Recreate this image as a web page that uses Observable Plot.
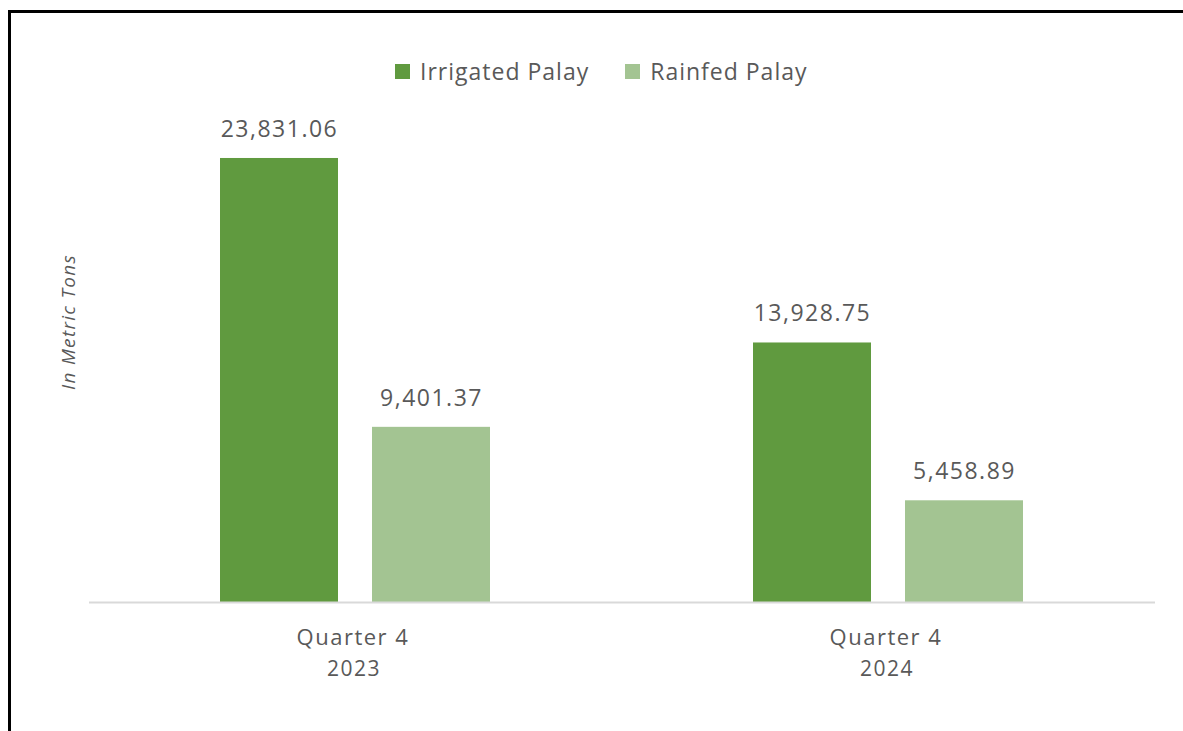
<!DOCTYPE html>
<html><head><meta charset="utf-8">
<script src="https://cdn.jsdelivr.net/npm/d3@7"></script>
<script src="https://cdn.jsdelivr.net/npm/@observablehq/plot@0.6"></script>
<style>
html,body{margin:0;padding:0;background:#fff;overflow:hidden;width:1183px;height:731px}
#wrap{position:relative;width:1183px;height:731px;font-family:'Open Sans',sans-serif;color:#595959}
#chart{position:absolute;left:0;top:0}
#chart svg text{letter-spacing:1.5px}
#frame{position:absolute;left:8px;top:10px;width:1400px;height:1000px;border:3px solid #000;pointer-events:none}
#legend{position:absolute;left:395px;top:55px;display:flex;align-items:center;font-size:23px;letter-spacing:1px;white-space:nowrap}
#legend .item{display:flex;align-items:center;margin-right:36px}
#legend .sw{width:15px;height:15px;margin-right:10px}
#ytitle{position:absolute;left:68px;top:322px;transform:translate(-50%,-50%) rotate(-90deg);font-style:italic;font-size:19px;letter-spacing:1.3px;white-space:nowrap}
</style></head>
<body>
<div id="wrap">
  <div id="frame"></div>
  <div id="legend"></div>
  <div id="ytitle">In Metric Tons</div>
  <div id="chart"></div>
</div>
<script>
const quarters = ["2023", "2024"];
const quarterLabel = "Quarter 4";
const series = ["Irrigated Palay", "Rainfed Palay"];
const irrigated = [23831.06, 13928.75];
const rainfed = [9401.37, 5458.89];
const colors = ["#609a3f", "#a3c492"];

const data = quarters.flatMap((q, i) => [
  {q, s: series[0], v: irrigated[i]},
  {q, s: series[1], v: rainfed[i]}
]);

const legend = document.getElementById("legend");
series.forEach((s, i) => {
  const it = document.createElement("div");
  it.className = "item";
  it.innerHTML = `<span class="sw" style="background:${colors[i]}"></span><span>${s}</span>`;
  legend.appendChild(it);
});

const fmt = d3.format(",.2f");
const chart = Plot.plot({
  width: 1183,
  height: 731,
  marginTop: 136.2,
  marginBottom: 129,
  marginLeft: 88,
  marginRight: 28,
  style: {fontFamily: "'Open Sans', sans-serif", color: "#595959", background: "transparent", overflow: "visible"},
  fx: {domain: quarters, padding: 0, axis: null},
  x: {domain: series, paddingInner: 0.222, paddingOuter: 0.854, axis: null},
  y: {domain: [0, 25000], axis: null},
  color: {domain: series, range: colors},
  marks: [
    Plot.barY(data, {fx: "q", x: "s", y: "v", fill: "s"}),
    Plot.ruleY([0], {stroke: "#d9d9d9", strokeWidth: 2}),
    Plot.text(data, {fx: "q", x: "s", y: "v", text: d => fmt(d.v), dy: -29, fontSize: 23, fill: "#595959"}),
    Plot.text(quarters, {fx: d => d, frameAnchor: "bottom", dy: 42, dx: -3, text: () => quarterLabel, fontSize: 22, fill: "#595959"}),
    Plot.text(quarters, {fx: d => d, frameAnchor: "bottom", dy: 73, dx: -2, text: d => d, fontSize: 21, fill: "#595959"})
  ]
});
document.getElementById("chart").appendChild(chart);
</script>
</body></html>
